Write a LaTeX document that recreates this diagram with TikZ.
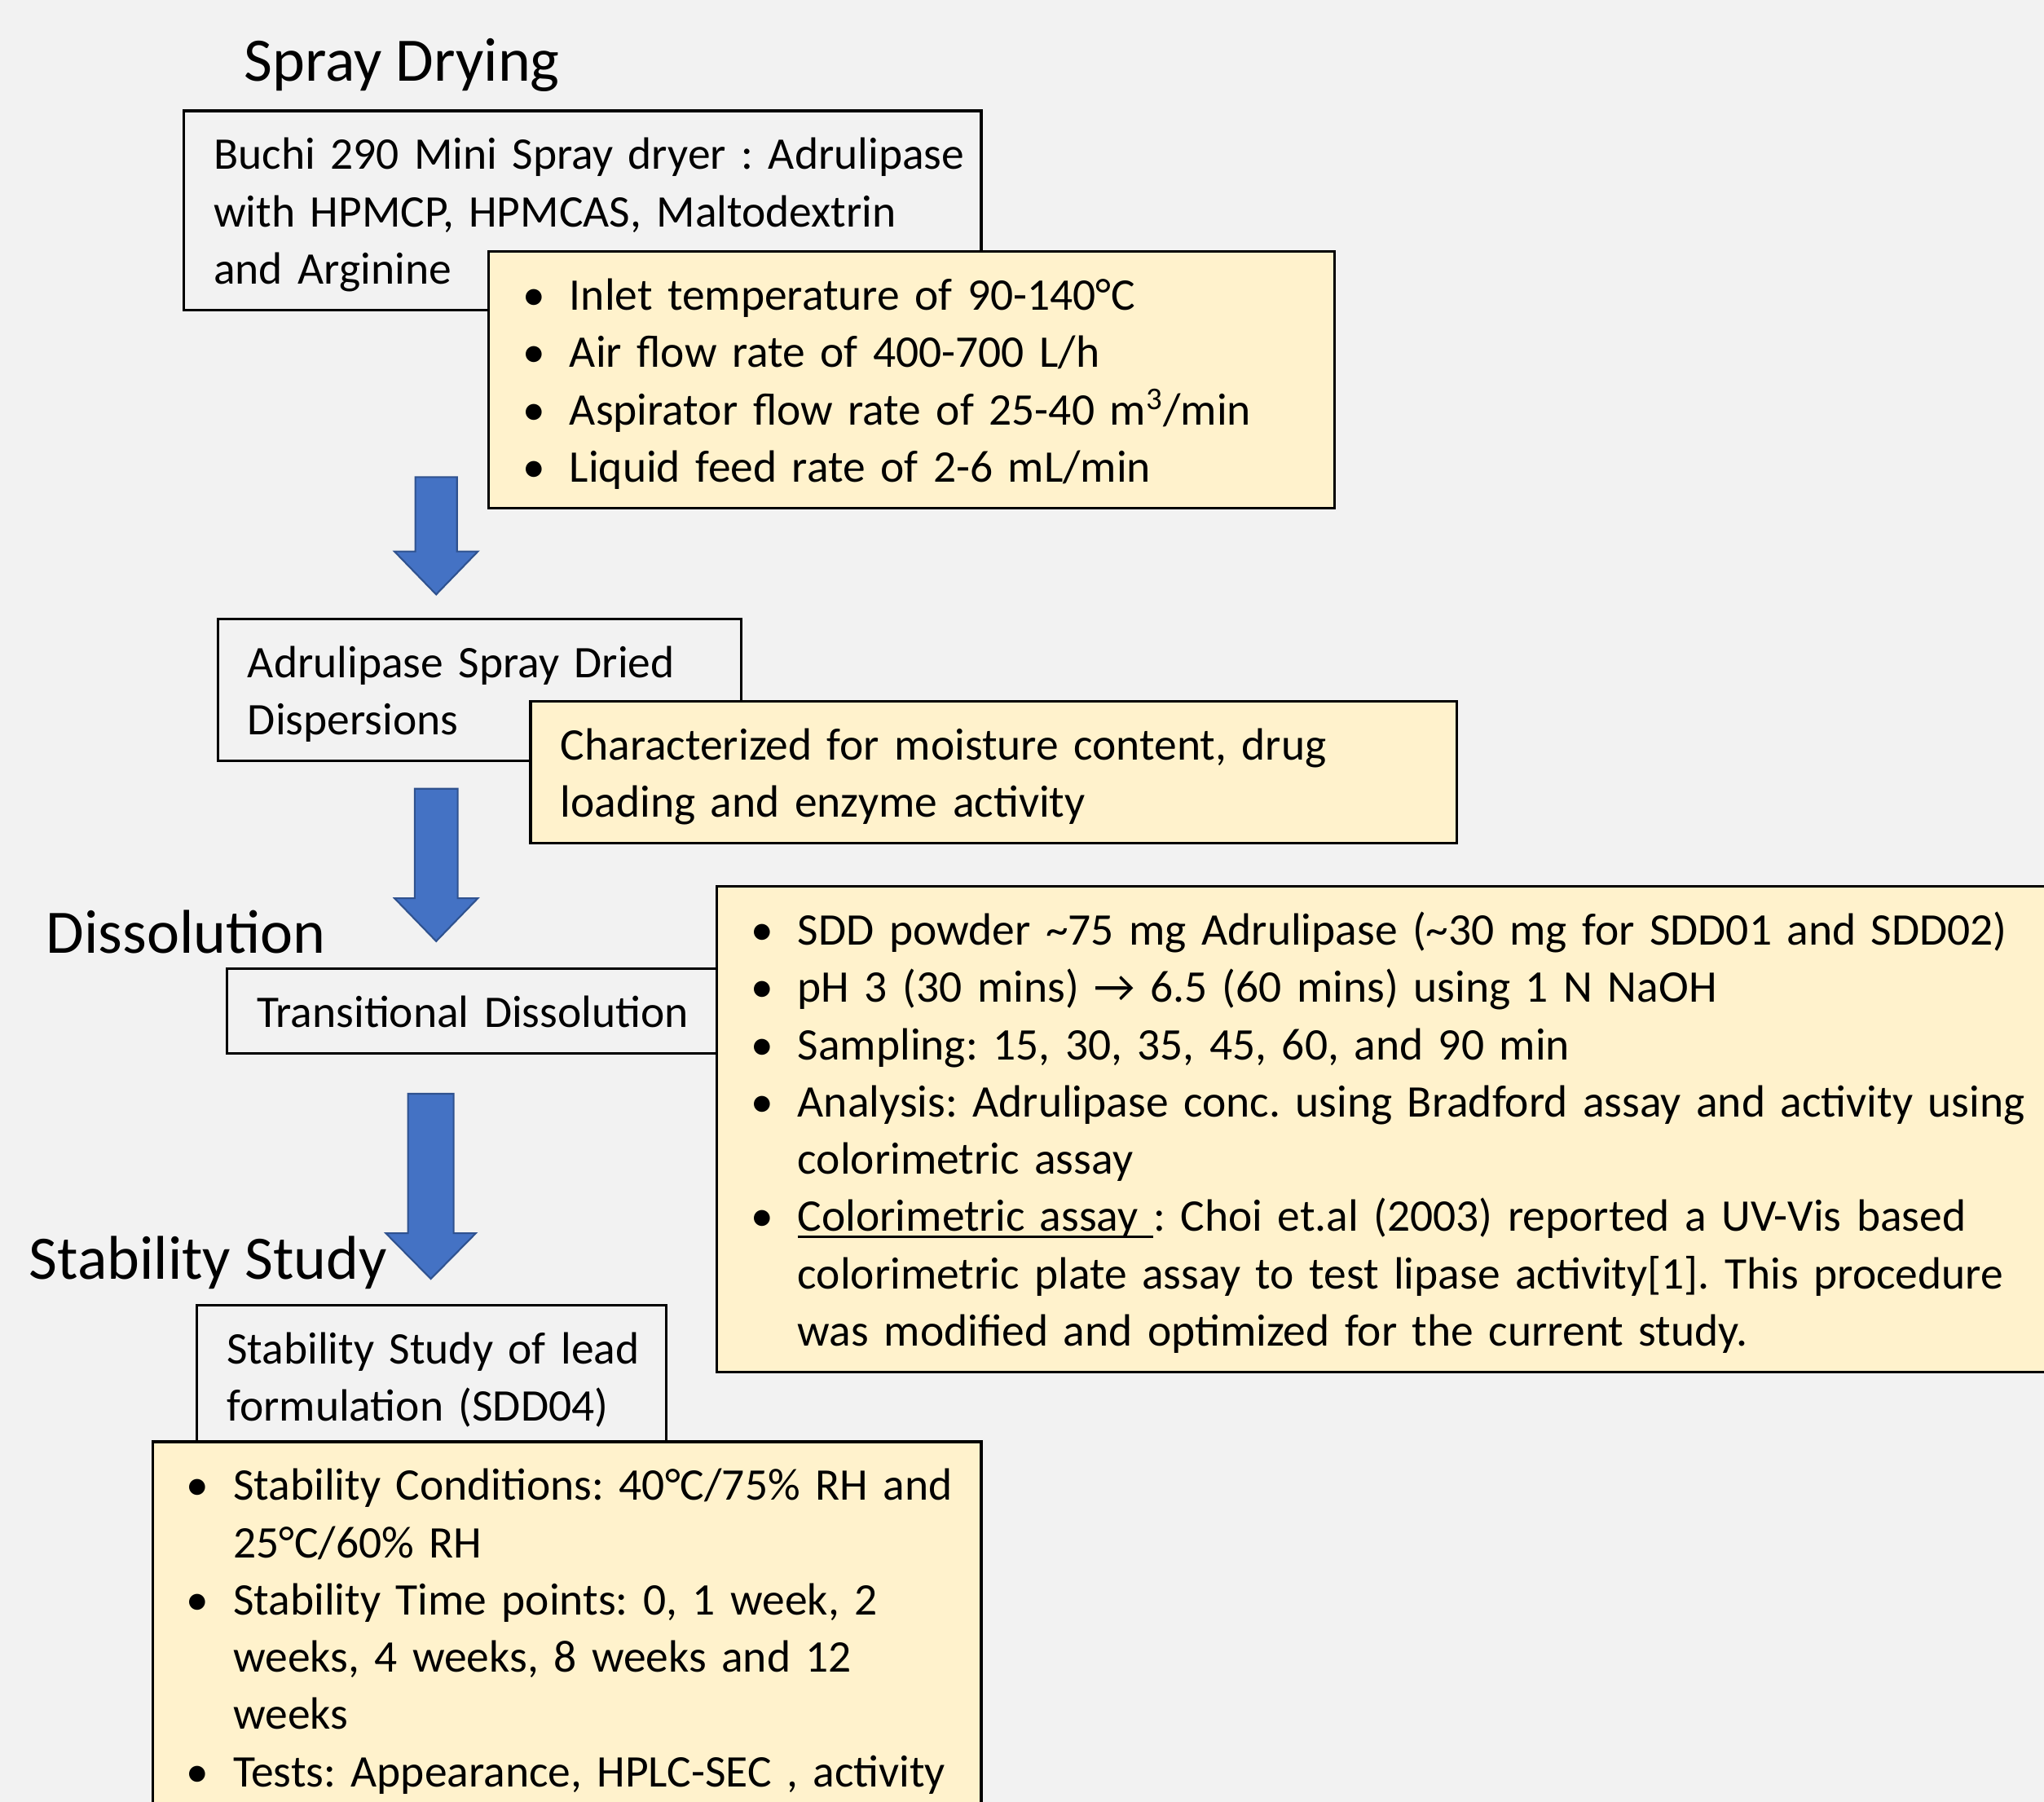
\documentclass[tikz,border=0pt]{standalone}
\usepackage{fontspec}
\setmainfont{Carlito}
\definecolor{bgcol}{HTML}{F2F2F2}
\definecolor{notecol}{HTML}{FFF2CC}
\definecolor{arrowfill}{HTML}{4472C4}
\definecolor{arrowline}{HTML}{2F528F}
\hyphenpenalty=10000
\exhyphenpenalty=10000
\frenchspacing
\newcommand{\topstrut}{\leftskip=0.168cm\rule{0pt}{0.608cm}}
\newcommand{\botstrut}{\rule[-0.208cm]{0pt}{0.208cm}\par}
\newcommand{\bitem}{\hangindent=0.624cm\hangafter=1\makebox[0.624cm][l]{\hspace{0.05cm}•}}
\newcommand{\underl}[1]{\setbox0\hbox{#1}\rlap{\rule[-0.085cm]{\wd0}{0.03cm}}\box0}
\begin{document}
\begin{tikzpicture}[x=0.016cm,y=-0.016cm,
  mainbox/.style={draw,line width=0.9pt,fill=bgcol,anchor=north west,align=left,
    inner xsep=0.2cm,inner ysep=0.112cm,font=\fontsize{15.8}{20}\selectfont},
  notebox/.style={mainbox,fill=notecol},
  title/.style={anchor=base west,inner sep=0pt,font=\fontsize{21.6}{26}\selectfont},
  blockarrow/.style={fill=arrowfill,draw=arrowline,line width=0.6pt}]
  \clip (0,0) rectangle (1568,1382);
  \fill[bgcol] (0,0) rectangle (1568,1382);
  % spray drying
  \node[title] (t1) at (187,62) {Spray Drying};
  \node[mainbox,text width=9.392cm] (dryer) at (140,84)
    {\topstrut Buchi 290 Mini Spray dryer : Adrulipase\\ with HPMCP, HPMCAS, Maltodextrin\\ and Arginine\botstrut};
  \node[notebox,text width=9.984cm] (dryerset) at (374,192)
    {\bitem\topstrut Inlet temperature of 90-140°C\par
     \bitem Air flow rate of 400-700 L/h\par
     \bitem Aspirator flow rate of 25-40 m\textsuperscript{3}/min\par
     \bitem Liquid feed rate of 2-6 mL/min\botstrut};
  \node[mainbox,text width=6.032cm] (sdd) at (166,474)
    {\topstrut Adrulipase Spray Dried\\ Dispersions\botstrut};
  \node[notebox,text width=10.976cm] (sddchar) at (406,537)
    {\topstrut Characterized for moisture content, drug\\ loading and enzyme activity\botstrut};
  % dissolution
  \node[title] (t2) at (35,731) {Dissolution};
  \node[mainbox,text width=5.616cm] (diss) at (173,742) {\topstrut Transitional Dissolution\botstrut};
  \node[notebox,text width=16.256cm] (dissset) at (549,679)
    {\bitem\topstrut SDD powder \textasciitilde75 mg Adrulipase (\textasciitilde30 mg for SDD01 and SDD02)\par
     \bitem pH 3 (30 mins) → 6.5 (60 mins) using 1 N NaOH\par
     \bitem Sampling: 15, 30, 35, 45, 60, and 90 min\par
     \bitem Analysis: Adrulipase conc. using Bradford assay and activity using\newline colorimetric assay\par
     \bitem \underl{Colorimetric assay\ }: Choi et.al (2003) reported a UV-Vis based\newline colorimetric plate assay to test lipase activity[1]. This procedure\newline was modified and optimized for the current study.\botstrut};
  % stability
  \node[title] (t3) at (22,981) {Stability Study};
  \node[mainbox,text width=5.36cm] (stab) at (150,1000)
    {\topstrut Stability Study of lead\\ formulation (SDD04)\botstrut};
  \node[notebox,text width=9.776cm] (stabset) at (116,1105)
    {\bitem\topstrut Stability Conditions: 40°C/75\% RH and\newline 25°C/60\% RH\par
     \bitem Stability Time points: 0, 1 week, 2\newline weeks, 4 weeks, 8 weeks and 12\newline weeks\par
     \bitem Tests: Appearance, HPLC-SEC , activity\botstrut};
  % arrows
  \foreach \cx/\ty/\hy/\by/\sw/\hw in {334.6/366/423/456/16/32, 334.6/605/689/722/16.5/32, 330.5/839/946/981/17.5/34.5}
    \draw[blockarrow] (\cx-\sw,\ty) -- (\cx+\sw,\ty) -- (\cx+\sw,\hy) -- (\cx+\hw,\hy)
      -- (\cx,\by) -- (\cx-\hw,\hy) -- (\cx-\sw,\hy) -- cycle;
\end{tikzpicture}
\end{document}
